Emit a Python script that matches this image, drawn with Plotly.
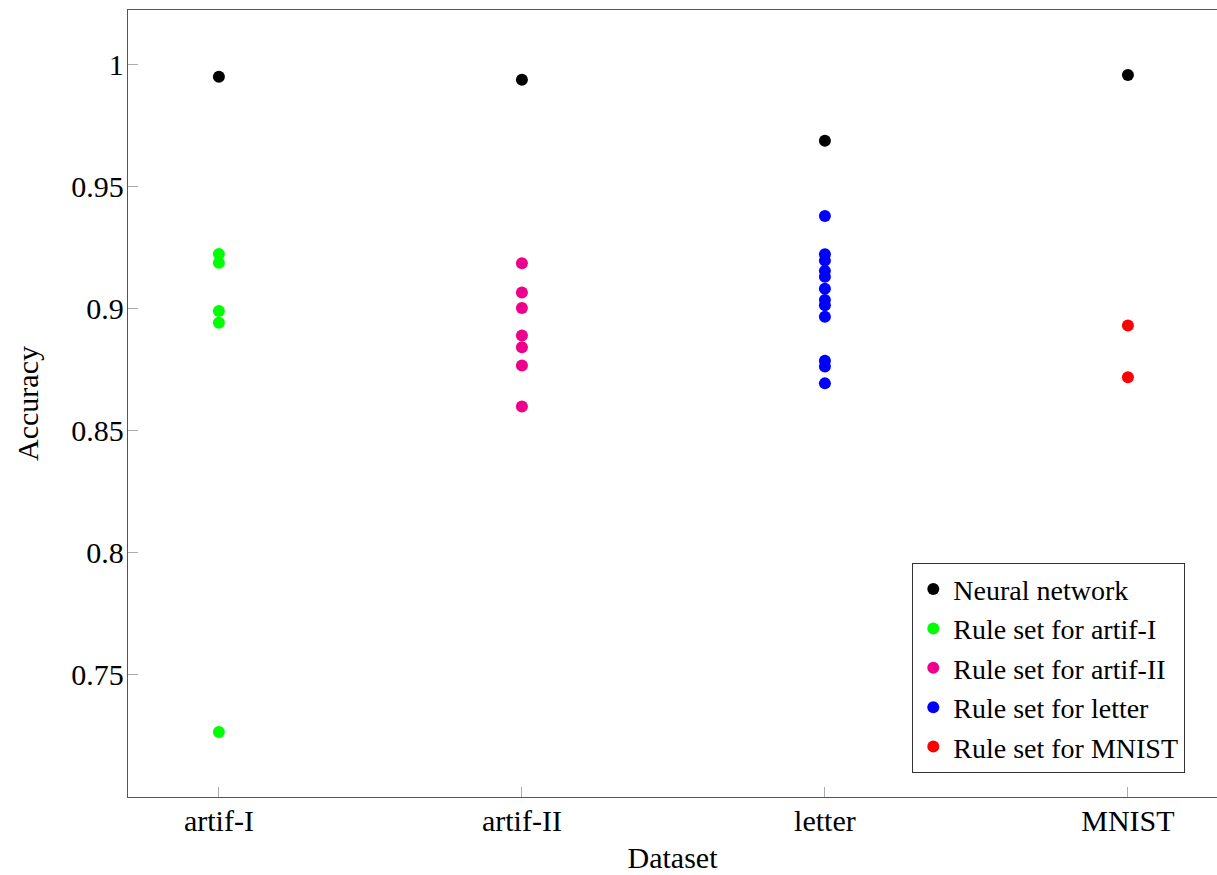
import plotly.graph_objects as go

categories = ["artif-I", "artif-II", "letter", "MNIST"]

nn_acc = [0.9951, 0.9939, 0.9689, 0.9959]
rules_artif1 = [0.9225, 0.9189, 0.8992, 0.8943, 0.7266]
rules_artif2 = [0.9187, 0.9067, 0.9004, 0.8891, 0.8843, 0.8768, 0.8600]
rules_letter = [0.9381, 0.9224, 0.9198, 0.9156, 0.9132, 0.9083, 0.9037,
                0.9015, 0.8968, 0.8788, 0.8764, 0.8695]
rules_mnist = [0.8932, 0.8720]

y_ticks = [0.75, 0.8, 0.85, 0.9, 0.95, 1.0]
y_ticktext = ["0.75", "0.8", "0.85", "0.9", "0.95", "1"]

series = [
    ("Neural network", categories, nn_acc, "#000000"),
    ("Rule set for artif-I", [categories[0]] * len(rules_artif1), rules_artif1, "#00ff00"),
    ("Rule set for artif-II", [categories[1]] * len(rules_artif2), rules_artif2, "#ec008c"),
    ("Rule set for letter", [categories[2]] * len(rules_letter), rules_letter, "#0000ff"),
    ("Rule set for MNIST", [categories[3]] * len(rules_mnist), rules_mnist, "#ff0000"),
]

FONT = "Liberation Serif"
FS = 30

fig = go.Figure()
for name, xs, ys, col in series:
    fig.add_trace(go.Scatter(
        x=xs, y=ys, mode="markers", name=name,
        marker=dict(color=col, size=12, line=dict(width=0)),
    ))

fig.update_layout(
    width=1217, height=875,
    margin=dict(l=128, r=0, t=10, b=78, autoexpand=False),
    paper_bgcolor="white", plot_bgcolor="white",
    font=dict(family=FONT, size=FS, color="black"),
    showlegend=True,
    legend=dict(
        x=0.9706, y=0.0305, xanchor="right", yanchor="bottom",
        bordercolor="#333", borderwidth=1.3, bgcolor="white",
        font=dict(family=FONT, size=28, color="black"),
        tracegroupgap=0, itemsizing="constant",
    ),
)

fig.update_xaxes(
    type="category", categoryorder="array", categoryarray=categories,
    range=[-0.3, 3.294], automargin=False,
    showline=True, linecolor="#555", linewidth=1.3, mirror=True,
    ticks="inside", ticklen=10, tickcolor="#aaa", tickwidth=1.3,
    showgrid=False, zeroline=False,
    title=dict(text="Dataset", font=dict(family=FONT, size=FS), standoff=10),
    tickfont=dict(family=FONT, size=FS),
    ticklabelstandoff=-3,
)
fig.update_yaxes(
    range=[0.7, 1.0225], automargin=False,
    tickvals=y_ticks, ticktext=y_ticktext,
    showline=True, linecolor="#555", linewidth=1.3, mirror=True,
    ticks="inside", ticklen=10, tickcolor="#aaa", tickwidth=1.3,
    showgrid=False, zeroline=False,
    title=dict(text="Accuracy", font=dict(family=FONT, size=FS), standoff=23),
    tickfont=dict(family=FONT, size=FS),
    ticklabelstandoff=-3,
)

fig.write_html(
    "out.html",
    config={"displayModeBar": False},
    post_script="document.body.style.margin='0';document.body.style.overflow='hidden';",
)
